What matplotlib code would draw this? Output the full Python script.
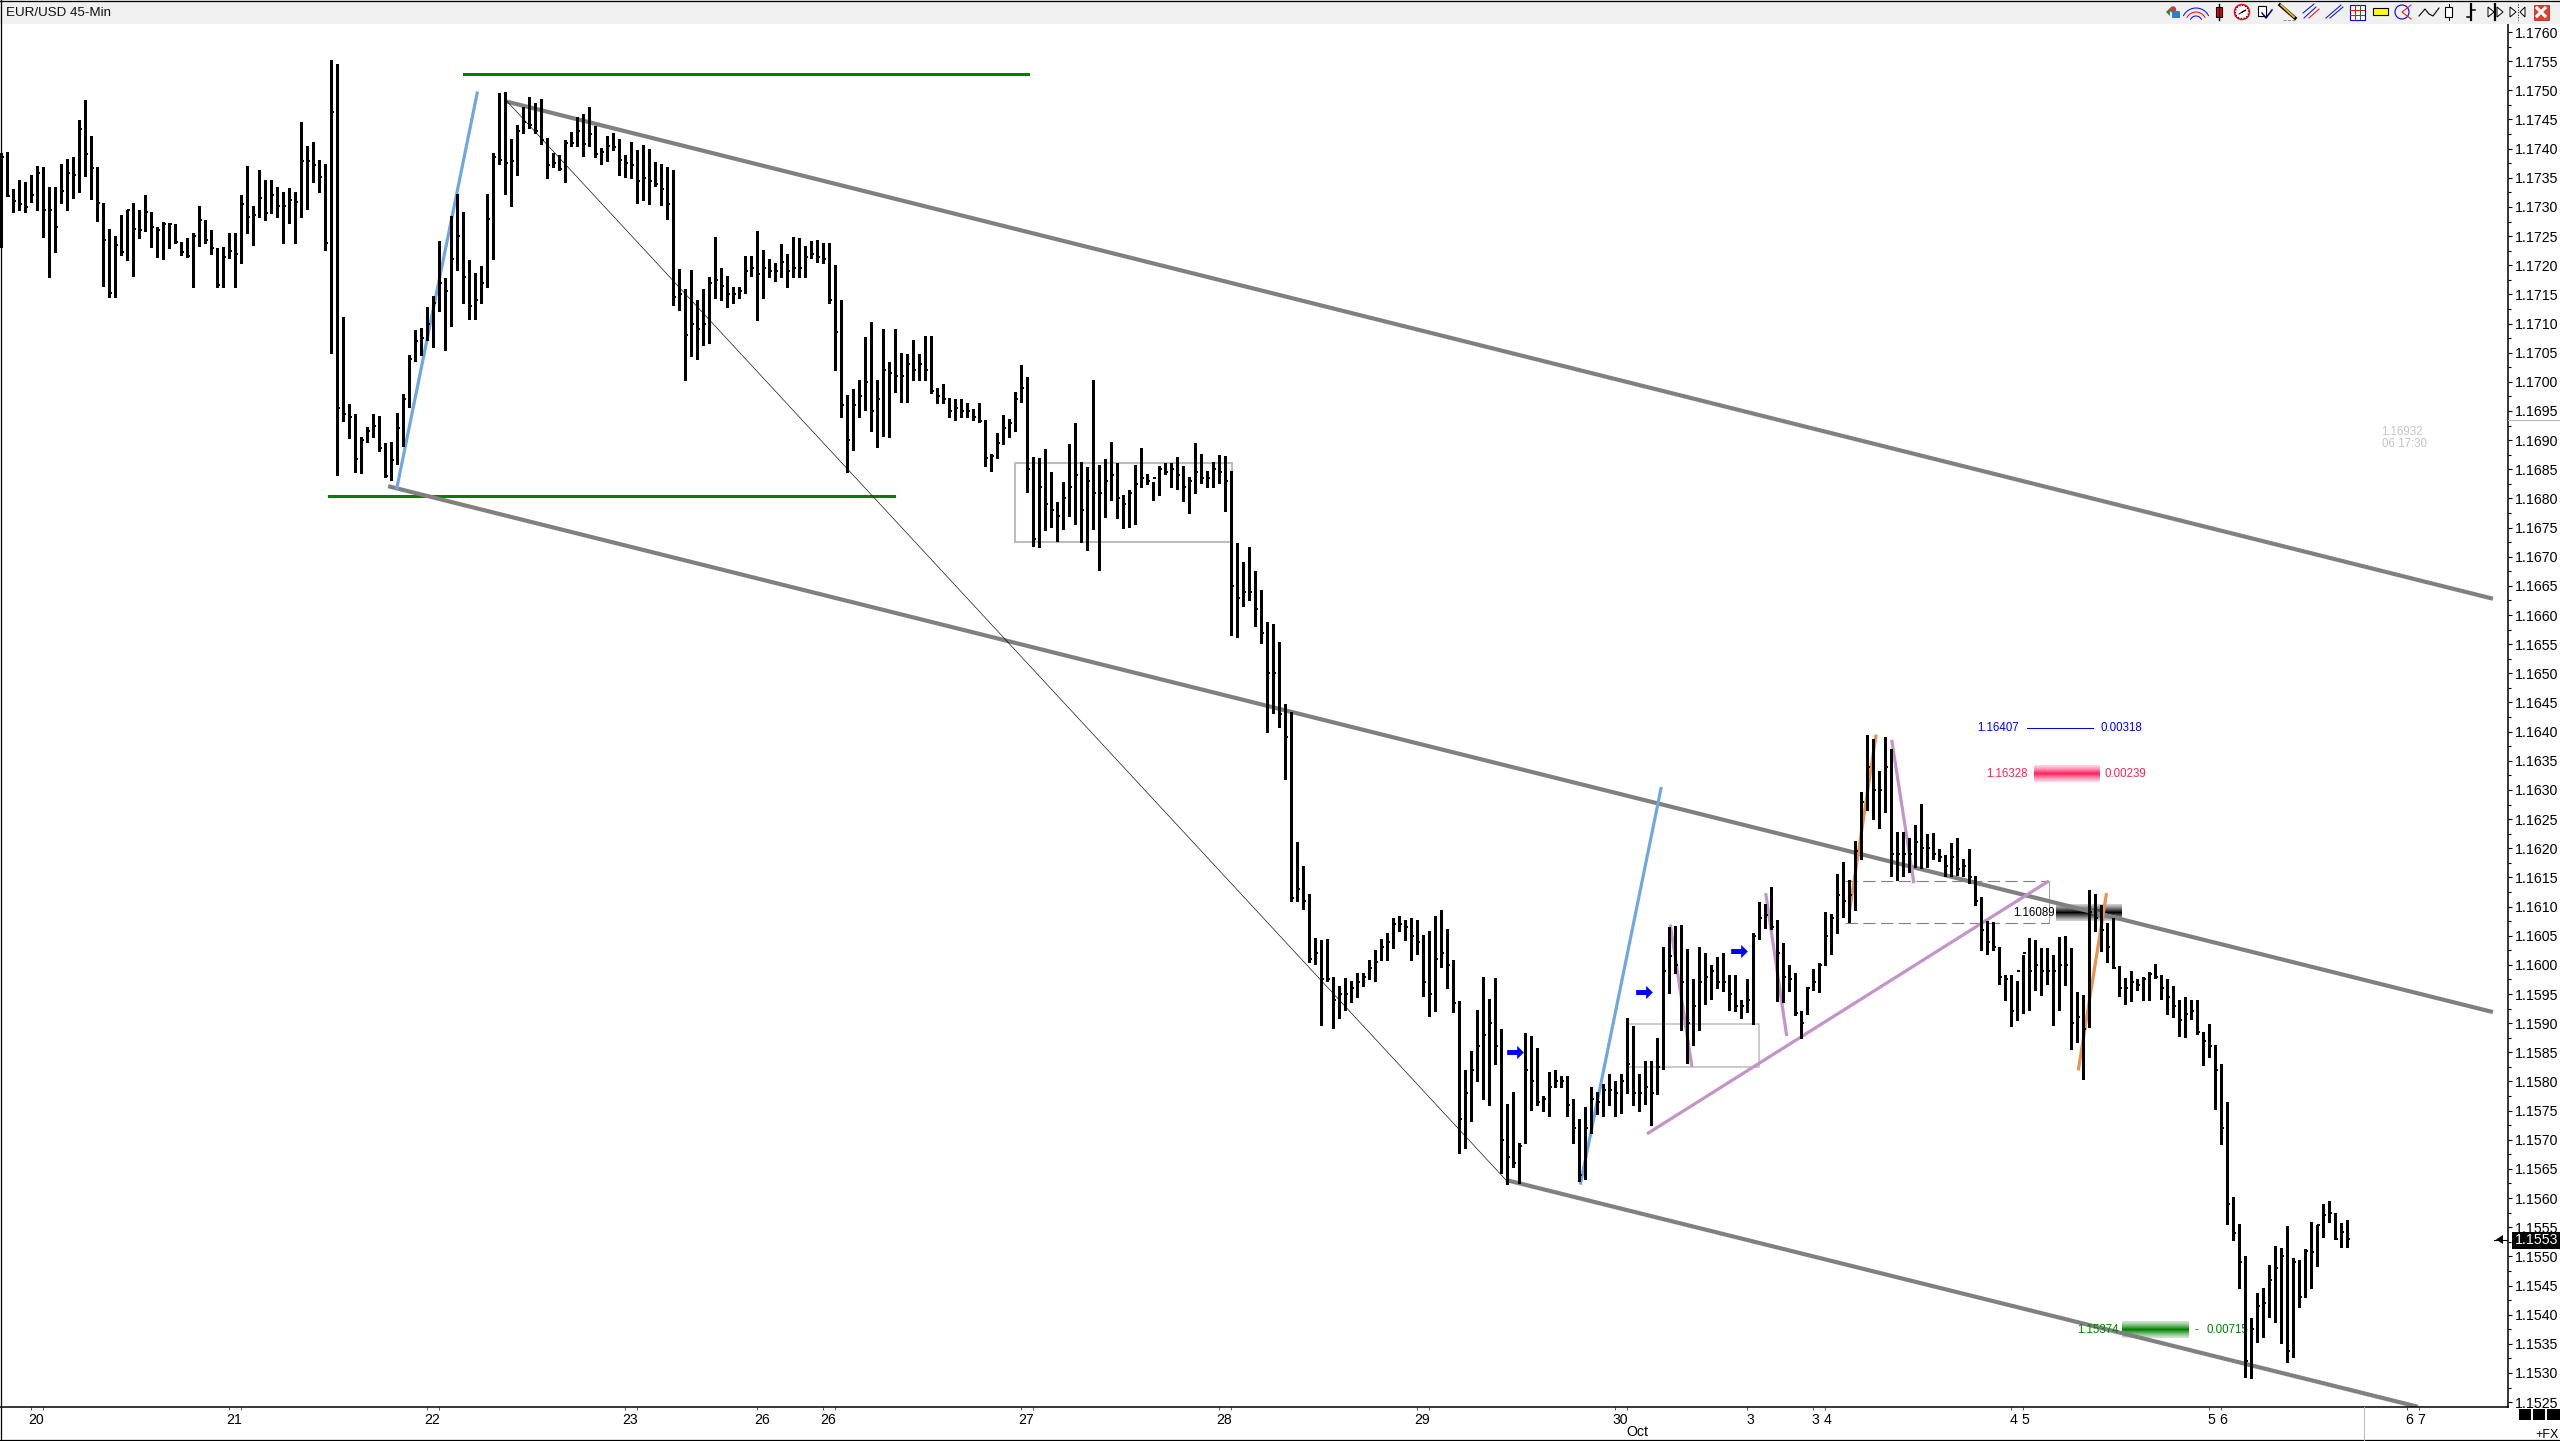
import numpy as np
import matplotlib
matplotlib.use('Agg')
import matplotlib.pyplot as plt
from matplotlib.patches import Rectangle, Circle, Polygon
from matplotlib.path import Path

plt.rcParams['font.family'] = ['Liberation Sans', 'DejaVu Sans']

# bar highs, lows and closes, in 1e-5 of a dollar (117392 = 1.17392), 45 min bars
highs = [
    117392,117395,117330,117346,117343,117355,117370,117368,117334,117334,
    117374,117383,117385,117449,117483,117422,117368,117307,117262,117251,
    117287,117295,117306,117295,117320,117291,117266,117275,117272,117271,
    117240,117246,117255,117302,117278,117260,117229,117232,117256,117256,
    117320,117370,117302,117363,117347,117346,117335,117325,117332,117325,
    117446,117405,117411,117381,117373,117552,117545,117111,116962,116944,
    116905,116923,116944,116941,116895,116896,116946,116980,117046,117089,
    117092,117128,117147,117242,117178,117284,117323,117291,117209,117187,
    117198,117323,117392,117495,117497,117416,117440,117472,117488,117478,
    117485,117418,117393,117389,117415,117429,117455,117459,117471,117438,
    117401,117421,117426,117416,117389,117411,117397,117407,117399,117377,
    117373,117369,117364,117194,117159,117192,117140,117160,117180,117248,
    117196,117182,117162,117163,117216,117216,117259,117227,117211,117203,
    117236,117220,117248,117246,117233,117241,117244,117239,117239,117200,
    117140,116977,116987,117004,117077,117102,117004,117090,117034,117090,
    117049,117048,117072,117048,117079,117078,116990,116997,116973,116970,
    116971,116964,116953,116963,116935,116876,116913,116943,116937,116983,
    117029,117009,116871,116869,116884,116845,116794,116829,116894,116929,
    116863,116854,117004,116857,116867,116897,116860,116806,116815,116858,
    116887,116842,116829,116855,116860,116861,116871,116855,116837,116895,
    116877,116847,116863,116875,116873,116847,116724,116691,116717,116676,
    116643,116588,116584,116553,116447,116434,116210,116169,116122,116046,
    116043,116044,115979,115964,115977,115973,115986,115986,116009,116025,
    116044,116055,116080,116084,116077,116080,116077,116051,116058,116084,
    116094,116061,116008,115938,115820,115852,115923,115979,115941,115977,
    115890,115762,115782,115694,115883,115878,115857,115775,115816,115820,
    115809,115809,115770,115736,115756,115790,115782,115795,115813,115801,
    115813,115909,115895,115813,115835,115835,115874,116031,116065,116067,
    116069,116027,115976,116031,116020,116000,116013,116020,115983,115983,
    115940,115976,116055,116107,116105,116133,116077,116037,116000,115986,
    115921,115962,115993,116003,116091,116087,116156,116176,116146,116212,
    116297,116394,116387,116332,116391,116370,116228,116228,116217,116240,
    116276,116224,116226,116198,116188,116209,116217,116181,116198,116152,
    116116,116075,116073,116031,115983,115983,115972,116017,116046,116043,
    116029,116029,116017,116048,116049,116029,115953,115948,116128,116122,
    116103,116072,116081,115998,115977,115989,115976,115979,115988,116002,
    115983,115976,115964,115940,115945,115940,115940,115884,115898,115863,
    115830,115765,115602,115555,115501,115394,115437,115446,115485,115518,
    115514,115552,115497,115494,115513,115559,115554,115590,115595,115574,
    115557,115562,
]
lows = [
    117232,117318,117292,117294,117292,117309,117295,117249,117179,117223,
    117307,117295,117315,117326,117353,117314,117276,117165,117145,117145,
    117218,117209,117182,117246,117258,117232,117215,117210,117229,117239,
    117218,117215,117162,117233,117238,117220,117163,117163,117212,117163,
    117203,117255,117235,117283,117278,117289,117283,117239,117273,117239,
    117283,117297,117343,117326,117226,117050,116841,116933,116903,116845,
    116844,116896,116906,116882,116836,116831,116859,116890,116957,117035,
    117046,117071,117059,117122,117055,117096,117192,117136,117108,117108,
    117135,117163,117210,117373,117322,117301,117355,117427,117436,117426,
    117408,117350,117369,117363,117343,117405,117405,117387,117405,117386,
    117374,117378,117398,117354,117352,117349,117306,117312,117305,117336,
    117303,117279,117132,117124,117004,117044,117040,117063,117066,117143,
    117140,117128,117136,117143,117152,117181,117106,117143,117179,117173,
    117180,117162,117180,117180,117180,117212,117206,117203,117136,117021,
    116940,116846,116883,116939,116951,116915,116889,116907,116905,116982,
    116965,116965,117004,117003,117003,116981,116963,116964,116939,116935,
    116940,116940,116935,116931,116856,116847,116870,116893,116905,116916,
    116966,116811,116719,116717,116746,116751,116727,116747,116770,116757,
    116726,116712,116747,116677,116769,116798,116767,116750,116751,116757,
    116820,116825,116797,116806,116842,116820,116817,116796,116775,116809,
    116827,116819,116819,116826,116779,116566,116562,116616,116626,116581,
    116552,116399,116432,116408,116319,116110,116110,116096,116005,116001,
    115896,115972,115891,115909,115923,115936,115945,115964,115976,115973,
    116008,116008,116029,116058,116042,116009,116019,115947,115912,115921,
    115996,115960,115919,115677,115685,115732,115801,115770,115759,115830,
    115643,115624,115653,115626,115694,115751,115759,115750,115741,115791,
    115791,115741,115694,115629,115633,115712,115744,115741,115759,115741,
    115746,115780,115760,115749,115762,115726,115778,115822,115952,115986,
    115888,115832,115863,115888,115933,115941,115961,115955,115923,115921,
    115909,115919,115899,116044,116064,116061,115938,115936,115956,115914,
    115874,115916,115957,115953,116000,116019,116055,116082,116074,116094,
    116182,116266,116250,116235,116262,116152,116146,116152,116159,116167,
    116166,116167,116182,116178,116152,116153,116154,116152,116140,116103,
    116025,116018,116025,115968,115940,115895,115905,115917,115923,115957,
    115948,115968,115897,115923,115966,115856,115867,115805,115893,116058,
    116024,116005,115995,115947,115933,115938,115957,115940,115939,115977,
    115941,115916,115911,115878,115876,115907,115882,115828,115842,115753,
    115693,115555,115528,115446,115293,115291,115353,115362,115396,115387,
    115351,115319,115327,115413,115430,115446,115483,115533,115559,115530,
    115516,115516,
]
closes = [
    117385,117319,117310,117305,117300,117320,117359,117295,117295,117265,
    117328,117358,117354,117433,117391,117367,117307,117244,117152,117235,
    117223,117295,117263,117260,117292,117265,117260,117271,117271,117240,
    117223,117216,117250,117278,117243,117229,117166,117215,117225,117220,
    117305,117283,117286,117315,117289,117320,117302,117302,117312,117309,
    117379,117379,117372,117352,117238,117463,116955,116945,116940,116867,
    116900,116915,116925,116886,116838,116866,116920,116970,117040,117070,
    117075,117100,117135,117170,117155,117210,117250,117180,117130,117140,
    117170,117280,117385,117380,117375,117378,117430,117445,117440,117430,
    117415,117372,117375,117365,117410,117410,117430,117408,117425,117390,
    117395,117405,117402,117380,117375,117372,117345,117350,117345,117340,
    117330,117305,117145,117150,117080,117100,117090,117100,117170,117175,
    117165,117150,117150,117155,117190,117195,117185,117195,117190,117190,
    117205,117190,117195,117195,117215,117220,117215,117210,117140,117085,
    116960,116900,116960,116975,117000,116950,116970,117020,117015,117010,
    117010,117030,117020,117030,117020,116985,116975,116970,116950,116955,
    116950,116950,116940,116933,116870,116872,116895,116920,116930,116970,
    116990,116850,116730,116820,116790,116780,116770,116800,116820,116840,
    116780,116830,116810,116810,116830,116840,116800,116790,116810,116825,
    116835,116830,116835,116850,116845,116850,116840,116820,116830,116845,
    116835,116835,116850,116845,116830,116650,116630,116640,116640,116610,
    116570,116500,116500,116430,116390,116115,116130,116110,116010,116020,
    115975,115975,115940,115950,115950,115960,115970,115980,115995,116005,
    116030,116040,116070,116070,116065,116050,116040,115970,115950,116010,
    116020,116000,115935,115735,115780,115820,115860,115880,115900,115860,
    115700,115670,115660,115690,115820,115800,115765,115770,115790,115800,
    115800,115760,115720,115640,115720,115770,115765,115785,115785,115780,
    115800,115830,115780,115780,115790,115780,115825,115990,116015,116000,
    115970,115900,115930,115970,115980,115990,115970,115970,115950,115930,
    115930,115940,116050,116080,116085,116065,116020,115980,115975,115918,
    115900,115960,115970,116000,116050,116080,116120,116110,116120,116195,
    116280,116340,116300,116300,116340,116190,116190,116190,116190,116210,
    116200,116200,116190,116185,116170,116185,116165,116170,116150,116110,
    116060,116040,116030,115980,115975,115920,115990,116020,115990,116000,
    115990,115990,115990,116000,116000,115900,115910,115890,116090,116080,
    116060,116030,115995,115960,115960,115970,115965,115975,115985,115980,
    115960,115945,115930,115905,115915,115920,115885,115870,115860,115820,
    115720,115590,115540,115490,115320,115375,115415,115420,115460,115480,
    115500,115337,115490,115430,115509,115508,115553,115571,115574,115530,
    115542,115530,
]

# date axis
date_tick_bars = [5,7,38,40,71,73,104,106,126,137,139,170,172,203,205,236,238,269,271,291,302,304,335,337,368,370,401,403]
day_labels = ['20','21','22','23','26','26','27','28','29','30','3','3','4','4','5','5','6','6','7']
day_label_bars = [6,39,72,105,127,138,171,204,237,270,291.6,302.5,304.5,335.5,337.5,368.5,370.5,401.5,403.5]

# drawn studies: (bar, price) end points
channel_top = ([84.25, 415.4], [1.17481, 1.16628])
channel_mid = ([64.6, 415.4], [1.16821, 1.15919])
channel_low = ([250.9, 402.9], [1.15631, 1.15242])
thin_line = ([84.25, 250.9], [1.17483, 1.15631])
green_top = ([77.0, 171.4], [1.17528, 1.17528])
green_low = ([54.55, 149.0], [1.16804, 1.16804])
blue_lines = [([66.0, 79.5], [1.16815, 1.17498]), ([263.3, 276.8], [1.15623, 1.16305])]
mauve_lines = [([274.4, 341.4], [1.15710, 1.16144]), ([278.3, 281.9], [1.16069, 1.15825]),
               ([294.2, 297.7], [1.16123, 1.15878]), ([315.2, 318.9], [1.16386, 1.16140])]
orange_lines = [([308.2, 312.6], [1.16094, 1.16395]), ([346.3, 351.0], [1.15819, 1.16123])]
box_a = (169.0, 205.2, 1.16726, 1.16860)
box_b = (271.0, 293.1, 1.15824, 1.15899)
box_dash = (307.4, 341.4, 1.16071, 1.16144)
arrow_bars = [252.4, 273.9, 289.8]
arrow_prices = [1.15850, 1.15953, 1.16024]
last_price = 1.1553

BAR_X = np.arange(len(highs))
hi = np.array(highs) / 1e5
lo = np.array(lows) / 1e5
cl = np.array(closes) / 1e5

W, H = 2560, 1441
fig = plt.figure(figsize=(W / 100, H / 100), dpi=100, facecolor='white')
ax = fig.add_axes([0, (H - 1407) / H, 2508 / W, (1407 - 24) / H], facecolor='white')


def seg(pts, color, lw, z=2, aa=False, **kw):
    ax.plot(pts[0], pts[1], color=color, lw=lw, zorder=z, antialiased=aa,
            solid_capstyle='butt', **kw)


def band(x0, x1, price, rgb, half=0.00014):
    # horizontal strip that fades out towards its edges
    t = np.linspace(-1, 1, 17)
    img = np.ones((17, 1, 4))
    img[:, 0, :3] = rgb
    img[:, 0, 3] = 0.2 + 0.8 * (1 - np.abs(t)) ** 1.2
    ax.imshow(img, extent=(x0, x1, price - half, price + half), aspect='auto',
              interpolation='nearest', zorder=1.5)


band(338.9, 349.9, 1.16328, (1.0, 0.13, 0.38))
band(342.6, 353.6, 1.16089, (0, 0, 0))
band(353.5, 364.6, 1.15374, (0.0, 0.5, 0.0))
seg(([345.8, 353.0], [1.16099, 1.16082]), '#E8E8E8', 0.8, z=1.6, aa=True)

seg(green_top, '#008000', 2.0)
seg(green_low, '#008000', 2.0)
for pts in (channel_top, channel_mid, channel_low):
    seg(pts, '#808080', 3.0, aa=True)
seg(thin_line, 'black', 0.45, aa=True)
for pts in blue_lines:
    seg(pts, '#6FA8E0', 2.3, aa=True)
for pts in mauve_lines:
    seg(pts, '#C493C9', 2.3, aa=True)
for pts in orange_lines:
    seg(pts, '#E8944F', 2.3, aa=True)

for b, lw, col in ((box_a, 1.5, '#BDBDBD'), (box_b, 1.1, '#BDBDBD')):
    ax.add_patch(Rectangle((b[0], b[2]), b[1] - b[0], b[3] - b[2], fill=False, ec=col, lw=lw, zorder=1.8))
d = box_dash
ax.plot([d[0], d[1]], [d[3], d[3]], color='#808080', lw=0.8, dashes=(11, 5), zorder=1.8)
ax.plot([d[0], d[1]], [d[2], d[2]], color='#808080', lw=0.8, dashes=(11, 5), zorder=1.8)
ax.plot([d[1], d[1]], [d[2], d[3]], color='#A0A0A0', lw=0.72, zorder=1.8)

ax.vlines(BAR_X, lo, hi, color='black', lw=2.16, zorder=3, antialiased=False)
ax.hlines(cl, BAR_X, BAR_X + 0.6, color='black', lw=1.2, zorder=3, antialiased=False)

arrow = Path([(-1, -.3), (.2, -.3), (.2, -.8), (1, 0), (.2, .8), (.2, .3), (-1, .3), (-1, -.3)], closed=True)
ax.plot(arrow_bars, arrow_prices, ls='none', marker=arrow, ms=12, color='#0000FF', mew=0, zorder=4)

# price tool read-outs
txt = dict(fontsize=8.3, va='center', zorder=6)
ax.plot([337.7, 348.7], [1.16407, 1.16407], color='#0000FF', lw=0.75, zorder=2)
ax.text(336.4, 1.16407, '1.16407', color='#0000FF', ha='right', **txt)
ax.text(350.0, 1.16407, '0.00318', color='#0000FF', ha='left', **txt)
ax.text(337.9, 1.16328, '1.16328', color='#F0285A', ha='right', **txt)
ax.text(350.6, 1.16328, '0.00239', color='#F0285A', ha='left', **txt)
ax.text(342.3, 1.16089, '1.16089', color='black', ha='right', **txt)
ax.text(353.0, 1.15374, '1.15374', color='#008000', ha='right', **txt)
ax.text(366.0, 1.15374, '-', color='#008000', ha='center', **txt)
ax.text(367.6, 1.15374, '0.00715', color='#008000', ha='left', zorder=2, fontsize=8.3, va='center')
ax.text(400.3, 1.16914, '1.16932', color='#C4C4C4', ha='center', **txt)
ax.text(400.6, 1.16893, '06 17:30', color='#C4C4C4', ha='center', **txt)

ax.set_xlim(-0.5 / 6, 2507.5 / 6)
ax.set_ylim(1.152416, 1.176138)
for side in ('top', 'left'):
    ax.spines[side].set_visible(False)
for side in ('right', 'bottom'):
    ax.spines[side].set_linewidth(1.1)

ax.yaxis.tick_right()
ax.set_yticks(np.arange(1.1525, 1.17601, 0.0005), [f'{v:.4f}' for v in np.arange(1.1525, 1.17601, 0.0005)])
ax.set_yticks(np.arange(1.15275, 1.1760, 0.0005), minor=True)
ax.tick_params(axis='y', which='major', length=3, width=0.8, pad=2.2, labelsize=10.2)
ax.tick_params(axis='y', which='minor', length=2.2, width=0.8)
ax.set_xticks(day_label_bars, day_labels)
ax.set_xticks(date_tick_bars, minor=True)
ax.tick_params(axis='x', which='major', length=0, pad=4.6, labelsize=10.2)
ax.tick_params(axis='x', which='minor', length=2.4, width=0.6, color='#404040')

# window furniture, drawn in pixel space
ui = fig.add_axes([0, 0, 1, 1], facecolor='none', zorder=5)
ui.set_xlim(0, W)
ui.set_ylim(H, 0)
ui.axis('off')
ui.add_patch(Rectangle((0, 0), W, 24, fc='#F0F0F0', ec='none'))
ui.plot([0, W], [0.5, 0.5], color='black', lw=0.9)
ui.plot([0.5, 0.5], [0, H], color='black', lw=0.9)
ui.plot([0, W], [1440, 1440], color='black', lw=0.9)
ui.plot([2364, 2364], [1407, 1440], color='#B8B8B8', lw=0.72)
ui.plot([2508, W], [420, 420], color='#B8B8B8', lw=0.72)
ui.text(6, 12.5, 'EUR/USD 45-Min', fontsize=9.6, va='center', color='#101010')
ui.text(1637.5, 1432, 'Oct', fontsize=10.2, ha='center', va='center')
ui.text(2559, 1435, '+FX', fontsize=9, ha='right', va='center')
for x0, x1 in ((2519, 2531), (2533, 2545), (2547, 2560)):
    ui.add_patch(Rectangle((x0, 1409), x1 - x0, 11, fc='black', ec='none'))

# last price flag
ui.add_patch(Rectangle((2512, 1232), 48, 17, fc='black', ec='none'))
ui.text(2514.5, 1240.5, f'{last_price:.4f}', color='white', fontsize=10.2, va='center')
ui.plot([2494, 2507], [1239.5, 1239.5], color='black', lw=0.8)
ui.add_patch(Polygon([(2496, 1239.5), (2503, 1235), (2503, 1244)], fc='black', ec='none'))

# toolbar icons
ui.add_patch(Polygon([(2166, 12), (2170, 8), (2170, 16)], fc='#1E8C3C'))
ui.add_patch(Circle((2173, 9.5), 3.2, fc='#C04040', ec='none'))
ui.add_patch(Rectangle((2172, 11), 8, 7, fc='#2E7FC8', ec='none'))
for r, c in ((14, 'blue'), (10, 'red'), (6, 'blue')):
    a = np.linspace(np.pi * 1.15, np.pi * 1.85, 20)
    ui.plot(2196 + r * np.cos(a), 22 + r * 1.0 * np.sin(a), color=c, lw=0.7)
ui.plot([2219, 2219], [4, 20], color='black', lw=1)
ui.add_patch(Rectangle((2216, 7), 6, 10, fc='red', ec='black', lw=0.8))
ui.add_patch(Circle((2242, 12), 7.5, fc='white', ec='red', lw=1.1))
ui.add_patch(Circle((2242, 12), 6.5, fc='none', ec='#000080', lw=0.8, ls=':'))
ui.plot([2242, 2246, 2239], [12, 10, 14], color='black', lw=0.7)
ui.add_patch(Rectangle((2258, 6), 8, 10, fc='white', ec='black', lw=0.8))
ui.plot([2262, 2266, 2272], [13, 18, 10], color='#000080', lw=1.1)
ui.plot([2280, 2295], [5, 18], color='black', lw=2.4)
ui.plot([2281, 2294], [5, 17], color='#E8C020', lw=1.3)
ui.plot([2283, 2296], [19.5, 19.5], color='#808080', lw=0.6, ls='--')
ui.plot([2304, 2316], [18, 7], color='blue', lw=0.7)
ui.plot([2309, 2319], [18, 9], color='red', lw=0.7)
ui.plot([2303, 2314], [13, 4], color='blue', lw=0.7)
ui.plot([2326, 2341], [18, 5], color='blue', lw=0.7)
ui.plot([2330, 2343], [18, 7], color='blue', lw=0.7)
ui.add_patch(Rectangle((2349.5, 4.5), 15, 15, fc='white', ec='blue', lw=0.8))
ui.plot([2350, 2364], [9.5, 9.5], color='red', lw=0.7)
ui.plot([2350, 2364], [14.5, 14.5], color='#008000', lw=0.7)
ui.plot([2354.5, 2354.5], [5, 19], color='red', lw=0.7)
ui.plot([2359.5, 2359.5], [5, 19], color='#008000', lw=0.7)
ui.add_patch(Rectangle((2372.5, 8), 15, 7, fc='#FFFF00', ec='black', lw=0.8))
ui.add_patch(Circle((2402, 12), 7, fc='none', ec='blue', lw=0.8))
ui.plot([2411, 2402, 2411], [5, 12, 19], color='red', lw=0.7)
ui.plot([2419, 2425, 2429, 2433, 2439], [16, 9, 14, 16, 8], color='black', lw=0.8)
ui.plot([2448.5, 2448.5], [4, 20], color='black', lw=0.7)
ui.add_patch(Rectangle((2445, 7), 7, 10, fc='white', ec='black', lw=0.8, zorder=3))
ui.plot([2471, 2471], [4, 20], color='black', lw=1.6)
ui.plot([2467, 2471], [17, 17], color='black', lw=1.1)
ui.plot([2471, 2475], [10, 10], color='black', lw=1.1)
ui.add_patch(Polygon([(2494, 12), (2488, 7), (2488, 17)], closed=True, fc='white', ec='black', lw=0.7))
ui.plot([2495, 2495], [4, 20], color='black', lw=1.6)
ui.add_patch(Polygon([(2497, 7), (2497, 17), (2503, 12)], closed=True, fc='white', ec='black', lw=0.7))
ui.add_patch(Polygon([(2510, 7), (2510, 17), (2516, 12)], closed=True, fc='white', ec='black', lw=0.7))
ui.plot([2518, 2518], [4, 20], color='black', lw=0.7, ls=':')
ui.add_patch(Polygon([(2525, 7), (2525, 17), (2520, 12)], closed=True, fc='white', ec='black', lw=0.7))
ui.add_patch(Rectangle((2533.5, 4.5), 15, 15, fc='#E04030', ec='#B03020', lw=0.6))
ui.plot([2537, 2545], [8, 16], color='white', lw=2.2)
ui.plot([2537, 2545], [16, 8], color='white', lw=2.2)

fig.savefig('out.png', dpi=100)
